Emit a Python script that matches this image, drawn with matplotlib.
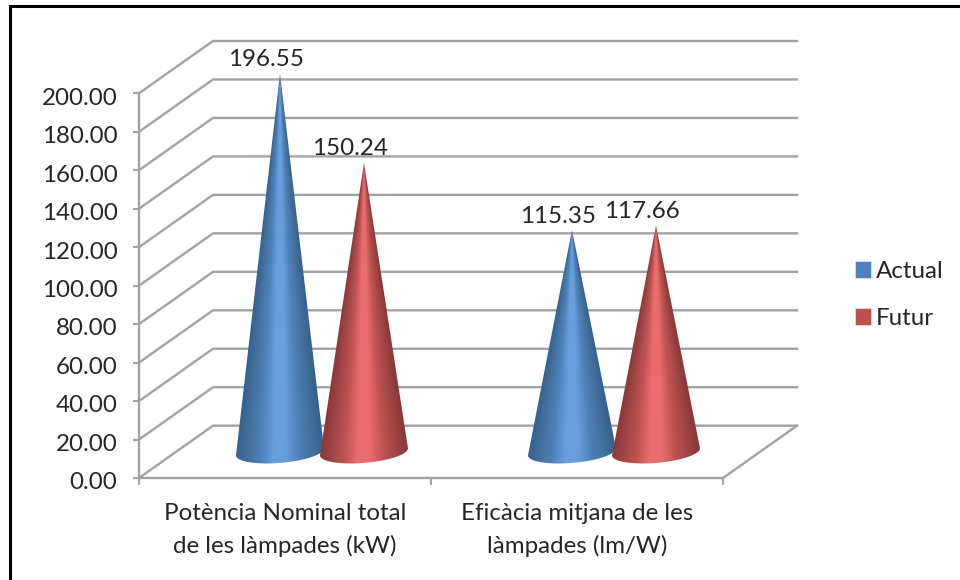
#!/usr/bin/env python3

import matplotlib
matplotlib.use("Agg")
import matplotlib.pyplot as plt
import numpy as np
from matplotlib.colors import LinearSegmentedColormap
from matplotlib.lines import Line2D
from matplotlib.patches import Patch, Polygon

categories = ["Potència Nominal total\nde les làmpades (kW)", "Eficàcia mitjana de les\nlàmpades (lm/W)"]
actual = [196.55, 115.35]
futur = [150.24, 117.66]
series_names = ["Actual", "Futur"]
series_colors = ["#4f81bd", "#c0504d"]
y_ticks = np.arange(0, 220, 20)

plt.rcParams['font.family'] = ['Lato', 'DejaVu Sans']
TEXT = "#262626"
GRID = "#a3a3a3"
FS = 17.4

W, H = 960, 580
fig = plt.figure(figsize=(W / 100, H / 100), dpi=100)

# fake 3d box: the front plane is the real axes scale, the back wall is shifted by depth
left, right, bottom, top = 139, 797, 478, 41
px_x = (723 - 139) / 2
px_y = (478 - 95.5) / 200
depth_x = (right - 723) / px_x
depth_y = 52 / px_y
ax = fig.add_axes([left / W, 1 - bottom / H, (right - left) / W, (bottom - top) / H])
ax.patch.set_visible(False)
xlim = (0, 2 + depth_x)
ylim = (0, 200 + depth_y)

for v in y_ticks:
    ax.plot([0, depth_x, 2 + depth_x], [v, v + depth_y, v + depth_y], color=GRID, lw=1.7, clip_on=False, zorder=1)
ax.plot([2, 2 + depth_x], [0, depth_y], color=GRID, lw=1.7, clip_on=False, zorder=1)


def draw_cone(xc, value, colors):
    # x position is the bar centre on the middle of the floor, value sets the height
    r = 44 / px_x
    tilt = 3.5 / px_y
    sag = 11 / px_y
    y0 = depth_y / 2
    t = np.linspace(0, np.pi, 60)
    base_x = xc + r * np.cos(t)
    base_y = y0 + tilt * np.cos(t) - sag * np.sin(t)
    pts = np.column_stack([np.r_[xc, base_x], np.r_[y0 + value, base_y]])

    xs = np.linspace(xc - r, xc + r, 260)
    ys = np.linspace(y0 - sag - tilt, y0 + value, 500)
    gx, gy = np.meshgrid(xs, ys)
    frac = np.clip((y0 + value - gy) / value, 0.001, None)
    u = np.clip((gx - xc) / (r * frac), -1, 1)
    img = ax.imshow((u + 1) / 2, extent=[xs[0], xs[-1], ys[0], ys[-1]], origin="lower",
                    cmap=LinearSegmentedColormap.from_list("c", colors), vmin=0, vmax=1,
                    aspect="auto", zorder=3, interpolation="bilinear")
    clip = Polygon(pts, closed=True, transform=ax.transData)
    img.set_clip_path(clip)
    ax.annotate(f"{value:.2f}", (xc, y0 + value), xytext=(-10, 10), textcoords="offset points",
                ha="center", va="center", fontsize=FS, color=TEXT, zorder=5)


blue = ["#35618f", "#44729f", "#4f82ba", "#699edd", "#699edd", "#4f82ba", "#44729f", "#35618f"]
red = ["#8a3838", "#a24646", "#bf5452", "#ea6c6c", "#ea6c6c", "#bf5452", "#a24646", "#8a3838"]
offset = 42 / px_x
for i in range(len(categories)):
    draw_cone(i + 0.5 + depth_x / 2 - offset, actual[i], blue)
    draw_cone(i + 0.5 + depth_x / 2 + offset, futur[i], red)

ax.set_xlim(xlim)
ax.set_ylim(ylim)

for side in ["top", "right"]:
    ax.spines[side].set_visible(False)
ax.spines["left"].set_bounds(0, 200)
ax.spines["bottom"].set_bounds(0, 2)
for side in ["left", "bottom"]:
    ax.spines[side].set_color(GRID)
    ax.spines[side].set_linewidth(1.7)
    ax.spines[side].set_zorder(2)

ax.set_yticks(y_ticks)
ax.set_yticklabels([])
# value labels sit a little low against their ticks, so they are placed by offset
for v in y_ticks:
    ax.annotate(f"{v:.2f}", (0, v), xytext=(-15.5, -3.5), textcoords="offset points",
                ha="right", va="center", fontsize=FS, color=TEXT, annotation_clip=False)
ax.set_xticks([0, 1, 2])
ax.set_xticklabels([])
ax.set_xticks([0.5, 1.5], minor=True)
ax.set_xticklabels(categories, minor=True, fontsize=FS, color=TEXT, linespacing=1.6)
ax.tick_params(axis="y", length=4.5, width=1.5, color=GRID)
ax.tick_params(axis="x", which="major", length=5, width=1.5, color=GRID)
ax.tick_params(axis="x", which="minor", length=0, pad=18)

handles = [Patch(facecolor=c, edgecolor="#dfe6ee", lw=0.5) for c in series_colors]
fig.legend(handles, series_names, loc="center left", bbox_to_anchor=(855 / W, 1 - 295 / H), frameon=False,
           fontsize=FS, labelcolor=TEXT, handlelength=0.66, handleheight=0.66, handletextpad=0.2,
           labelspacing=1.08, borderpad=0, borderaxespad=0)

# black frame, only left and top edges show
fig.add_artist(Line2D([9.5 / W, 9.5 / W, 1], [0, 1 - 5.5 / H, 1 - 5.5 / H], color="black", lw=2.2,
                      solid_joinstyle="miter"))

plt.savefig("out.png", dpi=100)
